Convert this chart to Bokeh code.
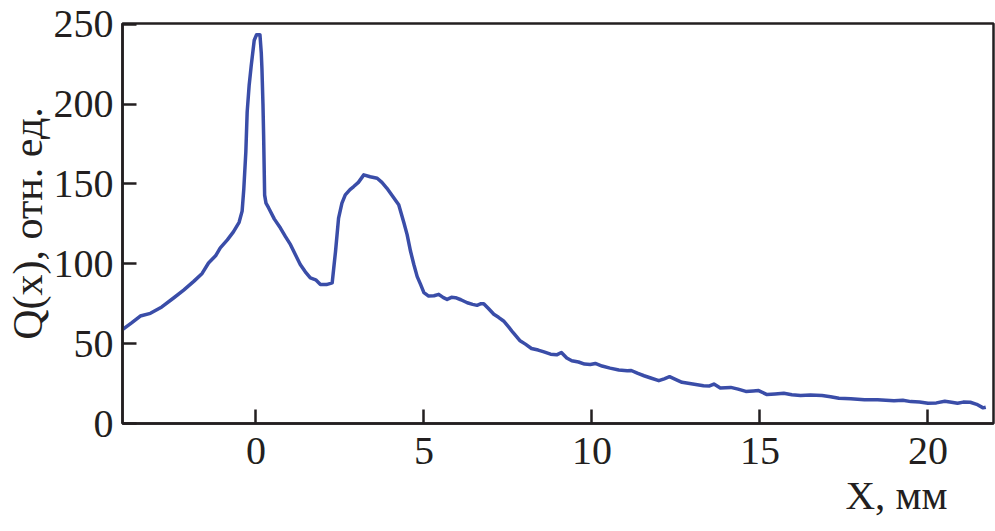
from bokeh.plotting import figure
from bokeh.models import Range1d, FixedTicker, Title
from bokeh.embed import file_html
from bokeh.resources import INLINE

# ---- data ----
x_mm = [-3.96, -3.70, -3.44, -3.14, -2.80, -2.45, -2.15, -1.85, -1.60, -1.41,
        -1.20, -1.06, -0.85, -0.67, -0.50, -0.41, -0.36, -0.30, -0.26, -0.20,
        -0.14, -0.05, 0.02, 0.12, 0.16, 0.18, 0.21, 0.23, 0.26, 0.30,
        0.38, 0.55, 0.73, 0.88, 1.03, 1.18, 1.32, 1.47, 1.62, 1.78,
        1.92, 2.10, 2.27, 2.32, 2.37, 2.46, 2.56, 2.66, 2.80, 2.91,
        3.05, 3.21, 3.40, 3.61, 3.75, 3.90, 4.08, 4.25, 4.40, 4.50,
        4.60, 4.70, 4.80, 4.90, 5.00, 5.14, 5.30, 5.44, 5.58, 5.69,
        5.82, 5.94, 6.10, 6.29, 6.45, 6.58, 6.70, 6.78, 6.92, 7.08,
        7.22, 7.37, 7.52, 7.65, 7.85, 8.02, 8.20, 8.40, 8.55, 8.77,
        8.95, 9.09, 9.25, 9.40, 9.60, 9.78, 9.95, 10.10, 10.30, 10.54,
        10.80, 11.05, 11.17, 11.35, 11.55, 11.75, 11.99, 12.15, 12.31, 12.50,
        12.68, 13.00, 13.32, 13.50, 13.63, 13.82, 14.13, 14.35, 14.58, 14.80,
        14.96, 15.21, 15.45, 15.71, 15.95, 16.21, 16.50, 16.85, 17.10, 17.35,
        17.70, 18.11, 18.50, 18.99, 19.25, 19.49, 19.75, 20.00, 20.25, 20.50,
        20.70, 20.88, 21.05, 21.26, 21.45, 21.64, 21.72]
q_rel = [59.0, 63.0, 67.3, 69.0, 73.0, 78.6, 83.5, 89.0, 94.0, 100.5,
         105.0, 110.0, 115.0, 120.0, 126.0, 133.0, 147.0, 170.0, 195.0, 212.0,
         224.0, 240.0, 243.5, 243.5, 232.0, 222.0, 200.0, 180.0, 143.0, 138.0,
         135.0, 128.0, 122.4, 117.0, 112.0, 105.5, 99.6, 95.0, 91.2, 90.0,
         87.1, 87.0, 88.1, 98.0, 107.9, 128.6, 138.0, 143.2, 146.5, 148.4,
         151.0, 155.7, 154.5, 153.6, 151.0, 147.3, 142.0, 137.0, 126.0, 118.3,
         108.0, 99.6, 92.0, 87.1, 82.0, 79.8, 80.0, 80.9, 78.8, 77.7,
         79.0, 78.8, 77.5, 75.6, 74.6, 74.0, 75.0, 75.0, 72.0, 68.4,
         66.5, 64.2, 60.5, 57.0, 52.0, 49.7, 47.0, 46.0, 45.0, 43.4,
         43.0, 44.5, 41.0, 39.3, 38.5, 37.2, 37.0, 37.6, 36.0, 34.7,
         33.5, 33.0, 33.2, 31.5, 29.9, 28.5, 26.8, 28.0, 29.3, 27.5,
         25.8, 24.8, 23.7, 23.5, 24.7, 22.2, 22.6, 21.5, 20.1, 20.4,
         20.6, 18.1, 18.5, 18.9, 18.0, 17.5, 17.8, 17.5, 16.8, 15.8,
         15.5, 14.8, 14.9, 14.3, 14.5, 13.7, 13.5, 12.7, 12.9, 13.9,
         13.3, 12.7, 13.4, 13.3, 12.0, 9.8, 10.2]
x_ticks = [0, 5, 10, 15, 20]
y_ticks = [0, 50, 100, 150, 200, 250]
y_title = "Q(x), отн. ед."
x_title = "X, мм"

INK = "#231F20"
FONT = "Liberation Serif"

p = figure(width=995, height=531, output_backend="svg", toolbar_location=None,
           x_range=Range1d(-3.97, 21.95), y_range=Range1d(0, 250.5),
           min_border_left=122, min_border_right=2, min_border_top=23,
           min_border_bottom=108)
p.background_fill_color = "white"
p.border_fill_color = "white"
p.grid.visible = False
p.outline_line_color = INK
p.outline_line_width = 2.5

p.line(x_mm, q_rel, line_color="#3A4DA8", line_width=3.5, line_join="round")

for ax in (p.xaxis[0], p.yaxis[0]):
    ax.major_tick_in = 14
    ax.major_tick_out = 0
    ax.minor_tick_line_color = None
    ax.major_tick_line_width = 2.5
    ax.major_tick_line_color = INK
    ax.axis_line_width = 2.5
    ax.axis_line_color = INK
    ax.major_label_text_font = FONT
    ax.major_label_text_font_size = "40px"
    ax.major_label_text_color = INK
p.xaxis.ticker = FixedTicker(ticks=x_ticks)
p.yaxis.ticker = FixedTicker(ticks=y_ticks)
p.xaxis.major_label_standoff = 14
p.yaxis.major_label_standoff = 9

p.yaxis.axis_label = y_title
p.yaxis.axis_label_text_font = FONT
p.yaxis.axis_label_text_font_size = "42px"
p.yaxis.axis_label_text_font_style = "normal"
p.yaxis.axis_label_text_color = INK
p.yaxis.axis_label_standoff = 0

p.add_layout(Title(text=x_title, align="right", offset=46, text_font=FONT,
                   text_font_size="41px", text_font_style="normal",
                   text_color=INK, standoff=6), "below")

open("out.html", "w").write(file_html(p, INLINE))
